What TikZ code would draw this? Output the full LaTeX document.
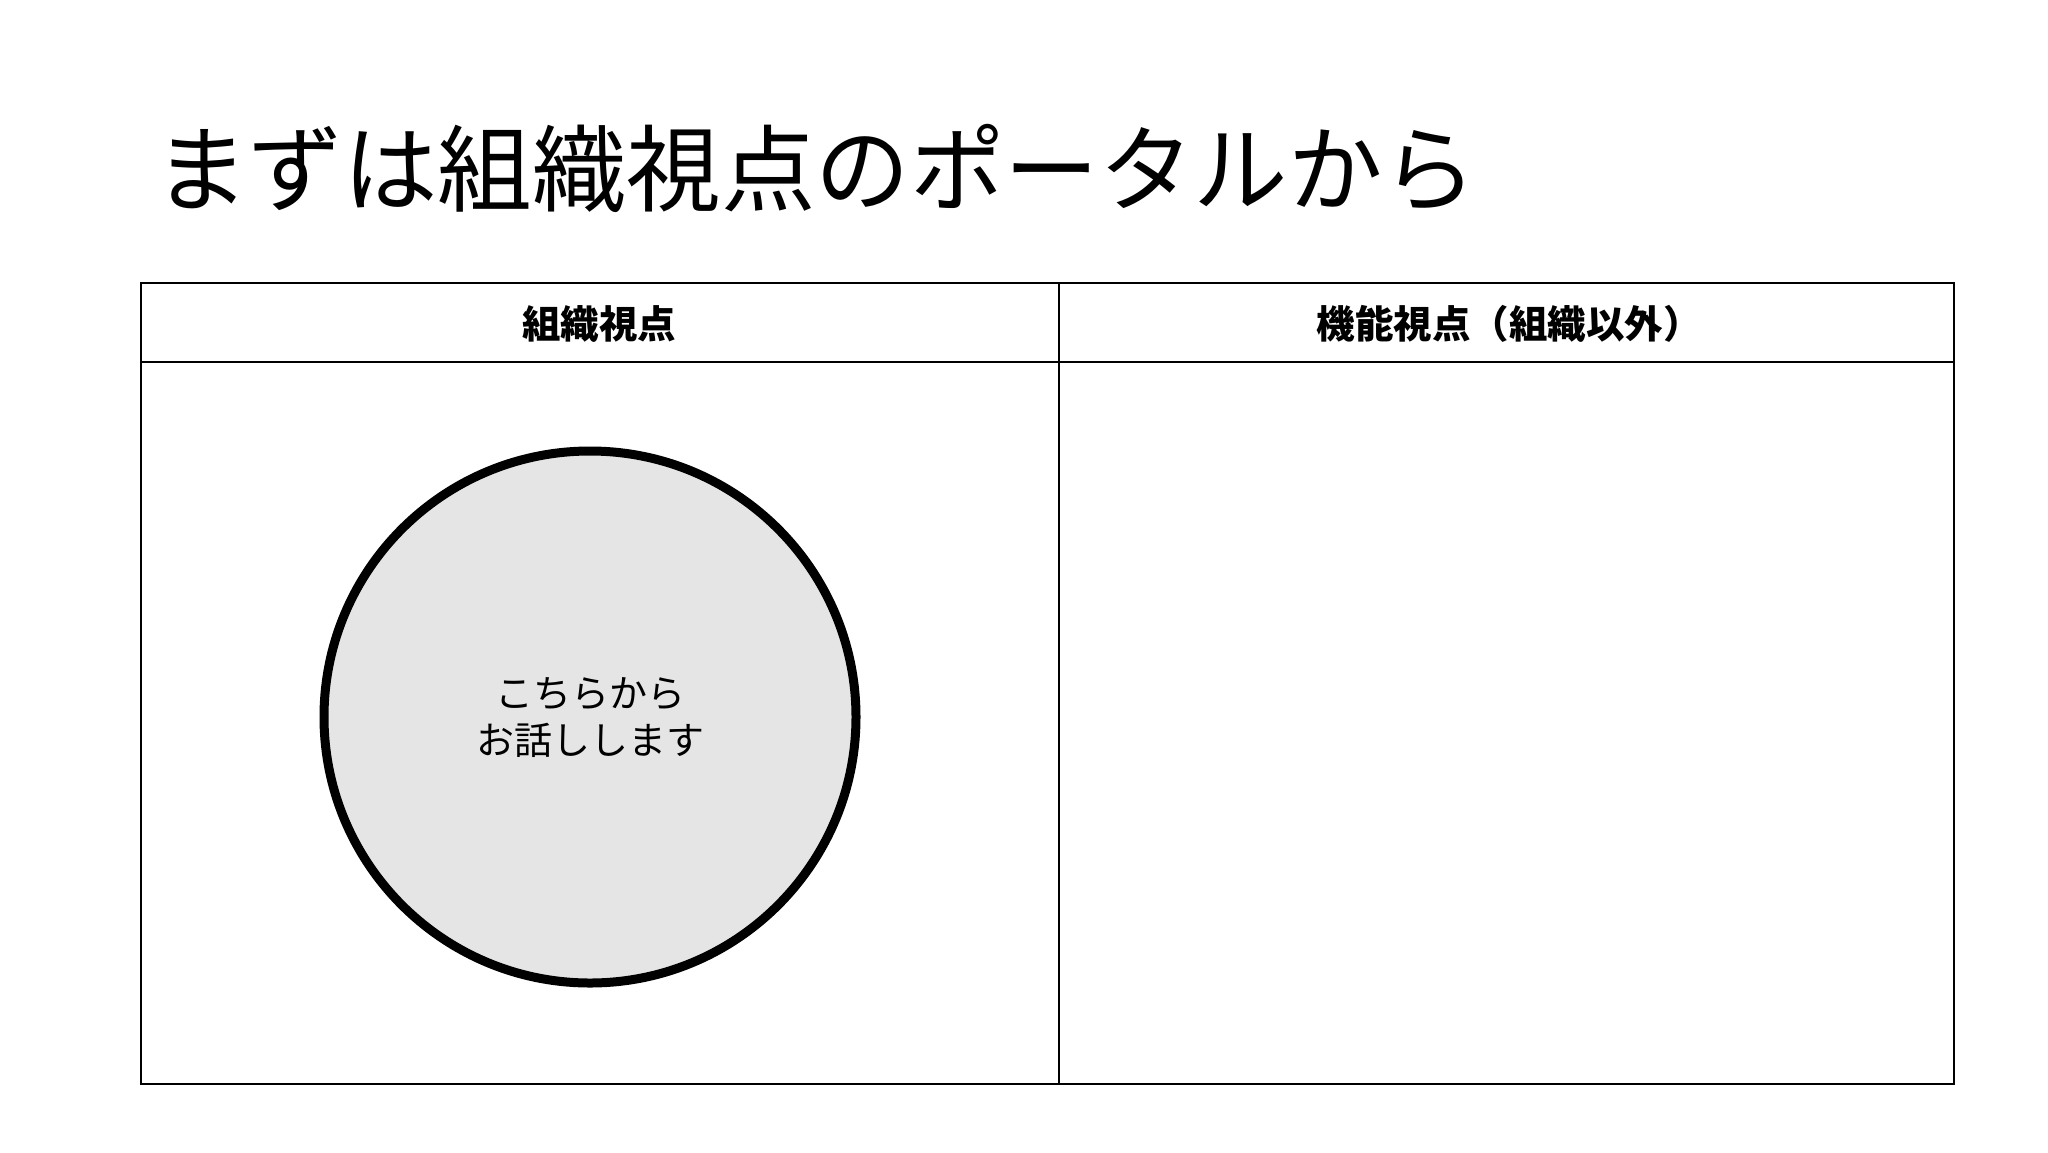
\documentclass[tikz,border=0pt]{standalone}
\usepackage{fontspec}
\newfontfamily\cjk{Noto Sans CJK JP}
\begin{document}
\begin{tikzpicture}[x=1pt,y=-1pt,
  tableline/.style={draw=black,line width=2.2pt},
  headtext/.style={font=\cjk\bfseries\fontsize{38.5}{42}\selectfont,anchor=center,inner sep=0pt},
  bubble/.style={circle,draw=black,line width=9pt,fill=black!10,minimum size=532pt,inner sep=0pt,align=center,font=\cjk\fontsize{38}{47}\selectfont}]
\useasboundingbox (0,0) rectangle (2048,1152);
\node[anchor=west,inner sep=0pt,font=\cjk\fontsize{94.5}{100}\selectfont] (title) at (154,168) {まずは組織視点のポータルから};
\coordinate (tl) at (141,283);
\coordinate (br) at (1954,1084);
\coordinate (hl) at (141,362);
\coordinate (hr) at (1954,362);
\coordinate (mt) at (1059,283);
\coordinate (mb) at (1059,1084);
\draw[tableline] (tl) rectangle (br);
\draw[tableline] (hl) -- (hr);
\draw[tableline] (mt) -- (mb);
\node[headtext] (h1) at (599,324) {組織視点};
\node[headtext] (h2) at (1509,324) {機能視点（組織以外）};
\node[bubble] (c) at (590,717) {こちらから\\お話しします};
\end{tikzpicture}
\end{document}
